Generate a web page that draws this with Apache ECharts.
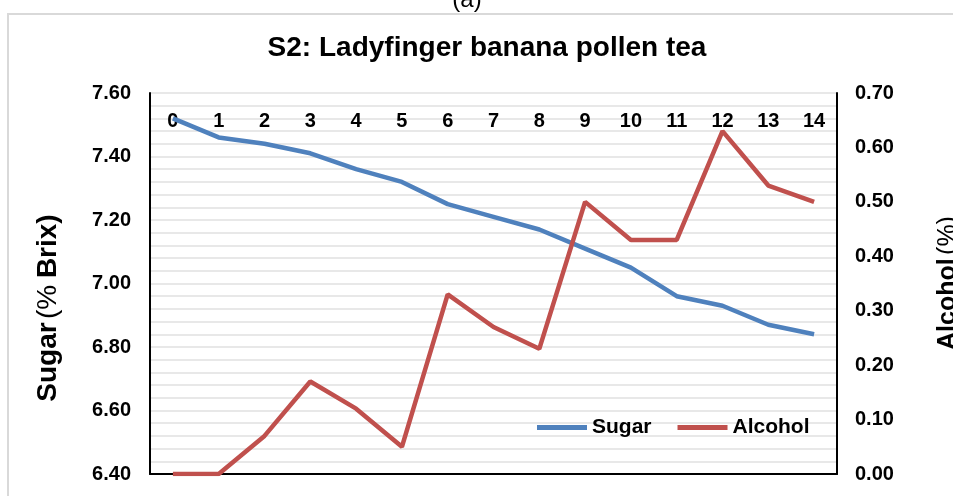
<!DOCTYPE html>
<html>
<head>
<meta charset="utf-8">
<script src="https://cdn.jsdelivr.net/npm/echarts@6/dist/echarts.min.js"></script>
<style>
html,body{margin:0;padding:0;background:#fff;}
#chart{width:953px;height:496px;}
</style>
</head>
<body>
<div id="chart"></div>
<script>
const categories = ['0','1','2','3','4','5','6','7','8','9','10','11','12','13','14'];
const sugar = [7.52,7.46,7.44,7.41,7.36,7.32,7.25,7.21,7.17,7.11,7.05,6.96,6.93,6.87,6.84];
const alcohol = [0.00,0.00,0.07,0.17,0.12,0.05,0.33,0.27,0.23,0.50,0.43,0.43,0.63,0.53,0.50];
const titleText = 'S2: Ladyfinger banana pollen tea';

const FONT = 'Liberation Sans, Arial, sans-serif';
const chart = echarts.init(document.getElementById('chart'), null, {renderer:'canvas'});
const option = {
  animation: false,
  textStyle: {fontFamily: FONT},
  grid: {left:150, right:116, top:93, bottom:22, containLabel:false},
  graphic: [
    {type:'rect', z:-10, shape:{x:8, y:14, width:1000, height:1000},
     style:{fill:'none', stroke:'#d9d9d9', lineWidth:2}},
    {type:'text', x:467, y:12, style:{text:'(a)', font:'24px '+FONT, fill:'#000',
      align:'center', verticalAlign:'bottom', textAlign:'center', textVerticalAlign:'bottom'}},
    {type:'text', x:487, y:48, style:{text:titleText, font:'bold 28px '+FONT, fill:'#000',
      align:'center', verticalAlign:'middle', textAlign:'center', textVerticalAlign:'middle'}},
    {type:'text', x:48, y:308, rotation:Math.PI/2,
     style:{text:'{b|Sugar} {r|(%}  {b|Brix)}', fill:'#000',
       rich:{b:{fontWeight:'bold', fontSize:28, fontFamily:FONT, fill:'#000'}, r:{fontSize:28, fontFamily:FONT, fill:'#000'}},
       align:'center', verticalAlign:'middle', textAlign:'center', textVerticalAlign:'middle'}},
    {type:'text', x:948, y:283, rotation:Math.PI/2,
     style:{text:'{b|Alcohol} {r|(%)}', fill:'#000',
       rich:{b:{fontWeight:'bold', fontSize:25, fontFamily:FONT, fill:'#000'}, r:{fontSize:25, fontFamily:FONT, fill:'#000'}},
       align:'center', verticalAlign:'middle', textAlign:'center', textVerticalAlign:'middle'}}
  ],
  legend: {
    left: 532, top: 412,
    itemWidth: 50, itemHeight: 5, itemGap: 26,
    icon: 'rect',
    textStyle: {fontSize:21, fontWeight:'bold', color:'#000', fontFamily:FONT},
    data: ['Sugar','Alcohol']
  },
  xAxis: [
    {type:'category', data:categories, position:'top', boundaryGap:true,
     axisLine:{show:false}, axisTick:{show:false},
     axisLabel:{inside:true, margin:18, fontSize:20, fontWeight:'bold', color:'#000', fontFamily:FONT, interval:0},
     splitLine:{show:false}},
    {type:'category', data:categories, position:'bottom', boundaryGap:true,
     axisLine:{show:true, lineStyle:{color:'#000', width:2}}, axisTick:{show:false},
     axisLabel:{show:false}, splitLine:{show:false}}
  ],
  yAxis: [
    {type:'value', position:'left', min:6.4, max:7.6, interval:0.2,
     axisLine:{show:true, lineStyle:{color:'#000', width:2}}, axisTick:{show:false},
     axisLabel:{margin:19, fontSize:20, fontWeight:'bold', color:'#000', fontFamily:FONT,
       formatter: v => v.toFixed(2)},
     splitLine:{show:true, lineStyle:{color:'#e8e8e8', width:2}},
     minorTick:{show:false, splitNumber:5},
     minorSplitLine:{show:true, lineStyle:{color:'#e8e8e8', width:2}}},
    {type:'value', position:'right', min:0, max:0.7, interval:0.1,
     axisLine:{show:true, lineStyle:{color:'#000', width:2}}, axisTick:{show:false},
     axisLabel:{margin:18, fontSize:20, fontWeight:'bold', color:'#000', fontFamily:FONT,
       formatter: v => v.toFixed(2)},
     splitLine:{show:false}}
  ],
  series: [
    {name:'Sugar', type:'line', xAxisIndex:0, yAxisIndex:0, data:sugar,
     showSymbol:false, symbol:'none', lineStyle:{color:'#4F81BD', width:4.5}, itemStyle:{color:'#4F81BD'}},
    {name:'Alcohol', type:'line', xAxisIndex:0, yAxisIndex:1, data:alcohol,
     showSymbol:false, symbol:'none', lineStyle:{color:'#C0504D', width:4.5}, itemStyle:{color:'#C0504D'}}
  ]
};
chart.setOption(option);
</script>
</body>
</html>
